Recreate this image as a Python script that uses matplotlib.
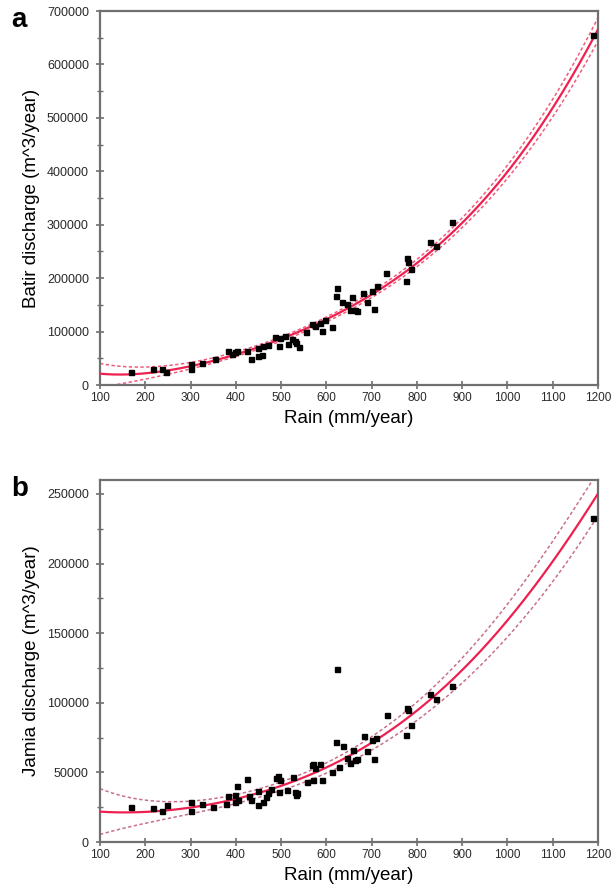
import numpy as np
import matplotlib
matplotlib.use("Agg")
import matplotlib.pyplot as plt

plt.rcParams['font.family'] = ['Liberation Sans', 'DejaVu Sans']

# ---------------- data: panel a (Batir) ----------------
rain_a = [168, 218, 238, 245, 302, 302, 325, 354, 383, 391, 398, 402, 424, 434, 450, 457,
          450, 461, 472, 487, 498, 495, 509, 516, 523, 531, 534, 540, 556, 568, 575, 586,
          590, 597, 612, 623, 621, 634, 645, 656, 652, 663, 668, 682, 689, 700, 705, 711,
          732, 775, 779, 781, 788, 829, 842, 877, 1189]
batir = [24500, 29500, 30000, 24500, 39000, 29500, 42000, 49500, 64000, 58000, 62000, 64000,
         64000, 49500, 54600, 56000, 70000, 73000, 75000, 89000, 88000, 73000, 92000, 77000,
         86000, 83000, 79000, 72000, 98500, 114000, 110000, 116000, 101000, 121000, 108000,
         181000, 167000, 155000, 152000, 164000, 141000, 141000, 138000, 172000, 155000,
         176000, 143000, 185000, 210000, 195000, 238000, 231000, 217000, 267000, 261000,
         306000, 656000]

fit_x = [100, 200, 300, 400, 500, 600, 700, 800, 900, 1000, 1100, 1200]
fit_a = [20700, 23000, 35000, 57000, 84000, 124000, 172000, 228000, 300000, 400000, 520000, 665000]
upper_a = [40000, 34500, 42000, 62000, 88000, 128000, 177000, 235000, 310000, 412000, 536000, 687000]
lower_a = [-5600, 13800, 29000, 52000, 80000, 120000, 167000, 221000, 290000, 388000, 504000, 643000]

# ---------------- data: panel b (Jamia) ----------------
rain_b = [168, 216, 238, 247, 302, 302, 325, 350, 378, 383, 398, 402, 398, 405, 424, 430,
          433, 448, 450, 459, 467, 472, 478, 489, 494, 498, 495, 512, 526, 531, 532, 536,
          558, 568, 571, 575, 571, 587, 590, 613, 621, 624, 629, 636, 645, 652, 658, 663,
          668, 683, 689, 700, 705, 710, 733, 775, 779, 781, 788, 829, 842, 877, 1189]
jamia = [25000, 24300, 22400, 26700, 29000, 22400, 27400, 24800, 27400, 33100, 33900, 39900,
         29000, 30500, 45100, 33100, 30400, 36400, 26700, 29000, 32100, 35000, 37900, 45900,
         47100, 44700, 35600, 37400, 46700, 36000, 34000, 35000, 43000, 55500, 56300, 53500,
         44700, 56000, 44700, 50600, 71800, 124000, 53700, 68700, 60300, 56700, 66300, 59000,
         59500, 75900, 65100, 73500, 59600, 74700, 91500, 76600, 96300, 95100, 83900, 106600,
         103000, 112000, 233000]

fit_b = [21500, 22300, 25000, 29800, 39900, 53800, 73500, 93200, 122000, 160000, 202000, 250000]
upper_b = [38000, 31000, 29000, 33500, 42500, 57500, 77500, 99000, 131000, 172000, 216000, 266000]
lower_b = [5000, 14500, 20500, 26000, 36500, 50000, 68500, 86500, 112000, 148000, 188000, 234000]

x_ticks = list(range(100, 1201, 100))

FIT_RED = '#ee2050'


def smooth(xs, ys, xx, deg=5):
    xs = np.asarray(xs, float)
    c = np.polyfit((xs - 650) / 550, ys, deg)
    return np.polyval(c, (xx - 650) / 550)


def panel(ax, rain, vals, fit, upper, lower, band_color, ylim, ymajor, ylabel, letter):
    xx = np.linspace(100, 1200, 400)
    ax.plot(xx, smooth(fit_x, upper, xx), ls=(0, (2.2, 1.6)), color=band_color, lw=1.1, zorder=2)
    ax.plot(xx, smooth(fit_x, lower, xx), ls=(0, (2.2, 1.6)), color=band_color, lw=1.1, zorder=2)
    ax.plot(xx, smooth(fit_x, fit, xx), color=FIT_RED, lw=1.6, zorder=3)
    ax.plot(rain, vals, ls='none', marker='s', ms=3.6, color='black', zorder=4)
    ax.set_xlim(100, 1200)
    ax.set_ylim(*ylim)
    ax.set_xticks(x_ticks)
    ax.set_yticks(np.arange(0, ylim[1] + 1, ymajor))
    ax.set_yticks(np.arange(ymajor / 2, ylim[1], ymajor), minor=True)
    ax.tick_params(axis='both', which='major', direction='inout', length=6, width=1.2,
                   color='#707070', labelcolor='#2a2a2a')
    ax.tick_params(axis='x', which='major', labelsize=8.5, pad=2)
    ax.tick_params(axis='y', which='major', labelsize=9, pad=5)
    ax.tick_params(axis='y', which='minor', direction='inout', length=4, width=1.0, color='#707070')
    ax.yaxis.set_major_formatter(matplotlib.ticker.FuncFormatter(lambda v, p: f"{int(v)}"))
    for s in ax.spines.values():
        s.set_color('#707070')
        s.set_linewidth(1.6)
    ax.set_xlabel('Rain (mm/year)', fontsize=13.5, labelpad=4)
    ax.set_ylabel(ylabel, fontsize=13.5, labelpad=5)
    ax.text(-0.178, 0.975, letter, transform=ax.transAxes, fontsize=20, fontweight='bold',
            ha='left', va='center')


fig = plt.figure(figsize=(6.15, 8.96), dpi=100)
ax_a = fig.add_axes([100 / 615, 1 - 385 / 896, 498 / 615, 374 / 896])
ax_b = fig.add_axes([100 / 615, 1 - 842 / 896, 498 / 615, 362 / 896])

panel(ax_a, rain_a, batir, fit_a, upper_a, lower_a, '#f05c7c', (0, 700000), 100000,
      'Batir discharge (m^3/year)', 'a')
panel(ax_b, rain_b, jamia, fit_b, upper_b, lower_b, '#c87088', (0, 260000), 50000,
      'Jamia discharge (m^3/year)', 'b')

fig.savefig('out.png', dpi=100)
